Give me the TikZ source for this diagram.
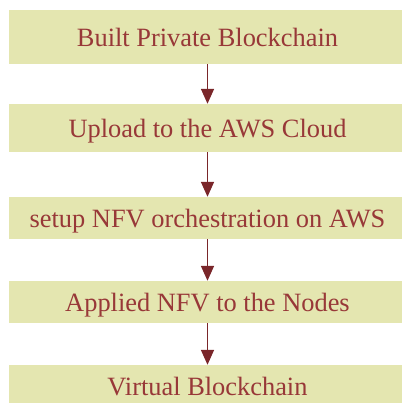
\documentclass[tikz,border=0pt]{standalone}
\usepackage{fontspec}
\setmainfont{Liberation Serif}
\usetikzlibrary{arrows.meta}
\definecolor{boxfill}{RGB}{228,230,176}
\definecolor{boxtext}{RGB}{152,56,56}
\definecolor{arrowcol}{RGB}{122,38,42}
\begin{document}
\begin{tikzpicture}[x=1pt,y=1pt,
  stagebox/.style={rectangle, fill=boxfill, draw=none, minimum width=397pt,
    inner sep=0pt, text=boxtext, font=\fontsize{26.4}{30}\selectfont,
    text height=18.6pt, text depth=0pt},
  flow/.style={draw=arrowcol, line width=1.6pt,
    -{Triangle[width=13pt,length=15pt]}, shorten >=0pt}]
  \useasboundingbox (0,0) rectangle (401,-403);
  \node[stagebox, minimum height=54pt] (b1) at (207.5,-37) {Built Private Blockchain};
  \node[stagebox, minimum height=48pt] (b2) at (207.5,-128) {Upload to the AWS Cloud};
  \node[stagebox, minimum height=42pt] (b3) at (207.5,-218) {setup NFV orchestration on AWS};
  \node[stagebox, minimum height=42pt] (b4) at (207.5,-302) {Applied NFV to the Nodes};
  \node[stagebox, minimum height=42pt] (b5) at (207.5,-386) {Virtual Blockchain};
  \draw[flow] (b1) -- (b2);
  \draw[flow] (b2) -- (b3);
  \draw[flow] (b3) -- (b4);
  \draw[flow] (b4) -- (b5);
\end{tikzpicture}
\end{document}
